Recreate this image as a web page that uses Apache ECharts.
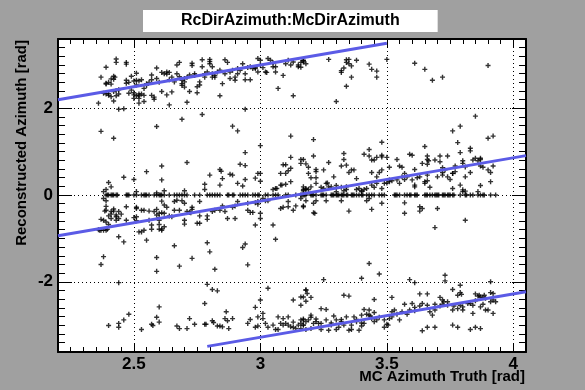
<!DOCTYPE html>
<html>
<head>
<meta charset="utf-8">
<script src="https://cdn.jsdelivr.net/npm/echarts@6/dist/echarts.min.js"></script>
<style>html,body{margin:0;padding:0;background:#a0a0a0;}#c{width:585px;height:390px;}</style>
</head>
<body>
<div id="c"></div>
<script>
// ---- data ----
const chartTitle = 'RcDirAzimuth:McDirAzimuth';
const xTitle = 'MC Azimuth Truth [rad]';
const yTitle = 'Reconstructed Azimuth [rad]';
const xRange = [2.2, 4.05];
const yRange = [-3.62, 3.6];
const xTickLabels = [2.5, 3, 3.5, 4];
const yTickLabels = [-2, 0, 2];

// upper band (reco close to truth)
const upperBand = [
[2.43,3.14],[2.43,3.06],[2.47,3.06],[2.47,3.02],[2.39,2.95],[2.37,2.72],[2.42,2.74],[2.425,2.72],[2.41,2.68],[2.42,2.67],[2.39,2.58],[2.40,2.60],[2.41,2.56],[2.39,2.56],[2.38,2.35],[2.39,2.33],[2.40,2.34],[2.40,2.30],[2.42,2.39],[2.43,2.41],[2.44,2.43],[2.41,2.27],[2.42,2.17],[2.36,2.12],[2.44,1.98],[2.46,1.99],[2.43,2.29],[2.44,2.33],
[2.47,2.65],[2.47,2.58],[2.49,2.74],[2.48,2.60],[2.51,2.81],[2.50,2.63],[2.51,2.65],[2.52,2.63],[2.53,2.66],[2.51,2.54],[2.49,2.42],[2.48,2.35],[2.50,2.36],[2.50,2.31],[2.51,2.29],[2.52,2.33],[2.52,2.29],[2.53,2.33],[2.54,2.30],[2.50,2.23],[2.52,2.23],[2.52,2.12],[2.54,2.16],[2.54,2.46],[2.55,2.57],[2.55,2.53],[2.56,2.60],[2.57,2.77],[2.57,2.66],[2.57,2.30],[2.58,2.26],[2.58,2.21],[2.59,2.93],[2.59,2.69],[2.59,1.58],
[2.60,2.60],[2.61,2.83],[2.62,2.80],[2.63,2.84],[2.63,2.79],[2.64,2.83],[2.64,2.66],[2.65,2.72],[2.66,2.61],[2.65,2.38],[2.61,2.39],[2.63,2.31],[2.64,2.08],[2.67,3.00],[2.67,2.80],[2.68,2.73],[2.68,3.06],[2.69,2.65],[2.69,2.57],[2.69,2.53],[2.70,2.61],[2.70,2.49],[2.70,2.69],[2.71,2.72],[2.69,1.75],[2.71,2.14],[2.72,2.39],[2.72,2.77],[2.73,2.99],[2.73,3.04],[2.74,2.80],[2.74,2.76],
[2.75,2.50],[2.75,2.36],[2.76,2.61],[2.76,2.54],[2.77,3.12],[2.77,2.96],[2.77,1.86],[2.78,2.80],[2.78,2.72],[2.79,2.84],[2.80,3.08],[2.80,3.13],[2.80,3.03],[2.81,2.96],[2.81,2.80],[2.81,2.72],[2.82,2.76],[2.82,2.72],[2.83,2.84],[2.84,2.88],[2.84,2.29],[2.85,2.57],
[2.86,3.12],[2.86,2.80],[2.87,3.06],[2.88,2.84],[2.88,2.69],[2.89,2.88],[2.90,2.72],[2.90,2.65],[2.91,2.80],[2.91,2.92],[2.92,2.88],[2.93,3.03],[2.94,2.80],[2.94,2.66],[2.95,2.94],[2.96,2.96],[2.89,1.59],[2.94,1.98],[2.96,2.66],[2.97,2.92],[2.98,2.92],
[2.98,2.94],[2.99,2.84],[2.99,3.15],[3.00,3.11],[3.00,3.00],[3.01,2.94],[3.02,2.84],[3.025,2.83],[3.03,3.15],[3.04,3.11],[3.05,3.05],[3.05,2.96],[3.06,2.96],[3.06,2.84],[3.07,2.46],[3.09,2.76],[3.10,3.03],[3.11,3.11],[3.12,3.00],[3.13,2.29],[3.13,3.07],[3.15,2.96],[3.15,3.00],[3.17,3.07],[3.17,3.11],[3.18,3.03],
[3.16,3.06],[3.16,2.95],[3.17,3.10],[3.27,3.13],[3.32,2.87],[3.32,2.83],[3.33,2.93],[3.34,3.12],[3.34,3.06],[3.35,3.03],[3.35,3.13],[3.36,2.98],[3.36,2.72],[3.38,3.11],[3.34,2.51],[3.30,2.16],[3.43,3.02],[3.44,2.90],[3.46,2.86],[3.46,2.72],[3.50,3.13],[3.61,3.04],[3.65,2.90],[3.68,2.65],[3.72,2.72],[3.90,2.99],[3.85,1.82],[3.79,1.59]
];

// middle band (reco shifted by -pi)
const middleBand = [
[2.37,1.47],[2.42,1.31],[2.91,1.48],[3.12,1.36],[3.00,1.14],[2.94,0.98],[3.12,0.87],[3.17,0.82],[3.16,0.73],[2.71,0.75],[2.61,0.67],[2.55,0.54],[2.46,0.41],[2.61,0.35],[2.50,0.36],[2.40,0.29],[2.41,0.19],
[2.92,0.71],[2.94,0.68],[2.84,0.59],[2.845,0.55],[2.80,0.46],[2.88,0.48],[2.89,0.46],[2.99,0.50],[3.00,0.50],[3.08,0.50],[3.09,0.70],[3.10,0.70],[3.11,0.56],[3.10,0.50],[3.12,0.62],[2.78,0.25],[2.78,0.13],[2.84,0.23],[2.85,0.38],[2.91,0.27],[2.94,0.36],[2.93,0.21],[2.98,0.39],[3.00,0.32],[3.05,0.13],[3.06,0.15],[3.065,0.15],[3.08,0.23],[3.085,0.23],[3.10,0.25],[3.12,0.31],[3.17,0.13],[3.18,0.15],
[2.38,-0.08],[2.39,-0.13],[2.38,0.08],[2.39,0.13],[2.59,0.05],[2.62,0.10],[2.61,-0.14],[2.66,-0.15],[2.70,0.10],[2.51,0.08],
[2.39,-0.26],[2.39,-0.35],[2.385,-0.37],[2.42,-0.32],[2.42,-0.37],[2.41,-0.38],[2.41,-0.44],[2.43,-0.50],[2.44,-0.38],[2.43,-0.46],[2.45,-0.44],[2.47,-0.27],[2.47,-0.58],[2.37,-0.56],[2.38,-0.58],[2.39,-0.62],[2.40,-0.68],[2.40,-0.48],[2.41,-0.54],[2.43,-0.58],[2.44,-0.54],[2.51,-0.28],[2.51,-0.31],[2.53,-0.35],[2.54,-0.35],[2.50,-0.52],[2.51,-0.50],[2.51,-0.59],[2.56,-0.37],[2.56,-0.58],[2.58,-0.38],[2.59,-0.33],[2.59,-0.46],[2.60,-0.52],[2.60,-0.58],[2.60,-0.42],[2.61,-0.41],[2.62,-0.42],[2.62,-0.23],[2.63,-0.28],[2.64,-0.48],[2.65,-0.50],[2.66,-0.35],[2.67,-0.12],[2.68,-0.35],[2.69,-0.13],[2.70,-0.19],[2.70,-0.67],[2.70,-0.58],[2.71,-0.38],[2.72,-0.40],[2.725,-0.41],[2.73,-0.28],[2.73,-0.33],[2.76,-0.15],[2.76,-0.48],[2.75,-0.65],[2.76,-0.65],[2.79,-0.48],[2.79,-0.56],[2.81,-0.38],[2.82,-0.35],[2.84,-0.35],[2.85,-0.25],[2.86,-0.38],[2.87,-0.54],[2.89,-0.28],[2.90,-0.54],[2.91,-0.15],[2.90,-0.25],[2.95,-0.19],[2.95,-0.35],[2.96,-0.40],[2.97,-0.40],[2.98,-0.18],[2.99,-0.15],[2.99,-0.21],[3.00,-0.42],[3.00,-0.54],[2.98,-0.69],[3.01,-0.08],[3.02,-0.13],[3.03,-0.13],[3.05,-0.69],[3.06,-1.02],[3.08,-0.31],[3.09,-0.28],[3.11,-0.27],[3.11,-0.15],[3.13,-0.35],[3.14,-0.25],[3.17,-0.27],[3.18,-0.13],
[2.37,-0.81],[2.365,-0.81],[2.38,-0.81],[2.39,-0.81],[2.395,-0.79],[2.36,-0.80],[2.44,-0.96],[2.46,-1.08],[2.38,-1.42],[2.59,-1.44],[2.55,-1.04],[2.61,-0.81],[2.60,-0.68],[2.60,-0.79],[2.61,-0.78],[2.62,-0.73],[2.52,-0.85],[2.53,-0.85],[2.54,-0.81],[2.57,-0.79],[2.57,-0.69],[2.66,-1.17],[2.73,-1.46],[2.79,-1.10],[2.80,-1.31],[2.93,-1.21],[2.94,-1.13],
[3.76,1.48],[3.21,1.28],[3.92,1.36],[3.90,1.31],[3.78,1.21],[3.48,1.22],[3.21,0.90],[3.33,0.96],[3.33,0.82],[3.41,0.94],[3.43,0.90],[3.34,0.69],[3.32,0.67],[3.19,0.64],[3.18,0.72],[3.16,0.82],[3.19,0.50],[3.22,0.59],[3.22,0.54],[3.25,0.58],[3.27,0.75],[3.29,0.42],[3.36,0.58],[3.37,0.58],[3.35,0.52],[3.38,0.38],[3.43,1.05],[3.44,0.81],[3.45,0.81],[3.46,0.87],[3.48,0.88],[3.48,0.92],[3.50,0.87],[3.47,0.52],[3.46,0.42],[3.48,0.58],[3.44,0.52],[3.51,0.64],[3.54,0.82],[3.55,0.67],[3.56,0.64],[3.59,0.94],[3.60,0.92],[3.61,0.59],[3.62,0.40],[3.64,0.73],[3.65,1.12],[3.66,0.82],[3.66,0.90],[3.665,0.79],[3.66,0.71],[3.69,0.81],[3.71,0.90],[3.71,0.77],[3.72,0.63],[3.74,0.90],[3.72,0.52],[3.73,0.58],[3.75,0.36],[3.74,0.42],[3.76,0.50],[3.77,0.67],[3.77,0.54],[3.79,0.98],[3.80,0.79],[3.80,0.73],[3.81,0.42],[3.81,0.65],[3.83,1.08],[3.83,1.02],[3.84,0.81],[3.85,0.85],[3.87,0.85],[3.87,0.82],[3.86,0.79],[3.87,0.67],[3.88,0.64],[3.83,0.52],[3.90,0.58],[3.91,0.52],[3.92,0.67],[3.91,0.31],[3.87,0.22],[3.76,0.50],
[3.17,0.19],[3.17,0.10],[3.18,0.13],[3.19,0.13],[3.20,0.19],[3.20,0.40],[3.22,0.40],[3.22,0.27],[3.24,0.18],[3.25,0.15],[3.26,0.27],[3.265,0.28],[3.27,0.19],[3.28,0.19],[3.30,0.22],[3.30,0.08],[3.32,0.18],[3.33,0.10],[3.34,0.13],[3.34,0.19],[3.38,0.13],[3.39,0.15],[3.40,0.10],[3.40,0.08],[3.41,0.13],[3.42,0.15],[3.44,0.23],[3.45,0.18],[3.46,0.27],[3.48,0.15],[3.49,0.27],[3.50,0.28],[3.51,0.35],[3.51,0.31],[3.52,0.33],[3.54,0.35],[3.55,0.27],[3.56,0.42],[3.57,0.50],[3.57,0.36],[3.58,0.42],[3.60,0.35],[3.61,0.23],[3.61,0.19],[3.63,0.42],[3.65,0.31],[3.65,0.27],[3.66,0.46],[3.66,0.33],[3.67,0.18],[3.70,0.42],[3.72,0.46],[3.76,0.15],[3.79,0.23],[3.80,0.12],[3.80,0.08],[3.81,0.09],[3.86,0.08],
[3.16,-0.08],[3.17,-0.25],[3.21,-0.19],[3.21,-0.41],[3.215,-0.42],[3.22,-0.13],[3.26,-0.13],[3.32,-0.13],[3.35,-0.37],[3.42,-0.13],[3.43,-0.08],[3.44,-0.33],[3.48,-0.19],[3.57,-0.18],[3.57,-0.42],[3.63,-0.37],[3.63,-0.27],[3.64,-0.31],[3.69,-0.75],[3.70,-0.31],[3.81,-0.58]
];

// row of entries reconstructed at exactly 0 (x values)
const zeroRowX = [
2.39,2.395,2.40,2.41,2.415,2.42,2.43,2.435,2.47,2.475,2.48,2.50,2.51,2.53,2.54,2.545,2.55,2.56,2.58,2.59,2.60,2.605,2.61,2.62,2.64,2.66,2.67,2.68,2.69,2.70,2.71,2.74,2.76,2.79,2.80,2.81,2.82,2.83,2.84,2.87,2.875,2.89,2.895,2.92,2.93,2.94,2.95,2.97,2.98,2.99,2.995,3.02,3.03,3.05,3.06,3.07,3.10,3.11,3.14,3.16,3.17,
3.165,3.175,3.18,3.20,3.205,3.21,3.22,3.24,3.245,3.25,3.26,3.28,3.285,3.29,3.30,3.305,3.31,3.32,3.325,3.33,3.34,3.345,3.36,3.365,3.37,3.38,3.39,3.40,3.405,3.42,3.43,3.44,3.45,3.47,3.48,3.49,3.53,3.535,3.54,3.55,3.57,3.58,3.59,3.595,3.61,3.615,3.62,3.65,3.655,3.66,3.67,3.68,3.69,3.695,3.70,3.705,3.72,3.725,3.73,3.74,3.745,3.75,3.76,3.765,3.79,3.81,3.815,3.83,3.84,3.86,3.87,3.88,3.885,3.91,3.93
];

// lower band (reco shifted by -2pi) and isolated entries below -1.5
const lowerBand = [
[2.37,-1.60],[2.68,-1.64],[2.59,-1.76],[2.82,-1.71],[2.95,-1.61],[2.44,-2.02],[2.79,-2.06],[2.81,-2.18],[2.83,-2.21],[3.03,-2.15],[2.78,-2.50],[2.60,-2.58],[2.48,-2.75],[2.46,-2.88],[2.44,-2.96],[2.44,-3.05],[2.40,-3.01],[2.59,-2.82],[2.60,-2.93],[2.57,-2.98],[2.575,-3.01],[2.53,-3.10],[2.67,-3.02],[2.68,-3.08],[2.71,-3.08],[2.72,-2.85],[2.74,-2.98],[2.78,-2.98],[2.785,-2.98],[2.81,-2.90],[2.815,-2.94],[2.83,-3.02],[2.84,-3.02],[2.85,-3.04],[2.86,-2.85],[2.865,-2.69],[2.87,-2.90],[2.875,-3.08],[2.89,-2.85],[2.95,-2.96],[2.96,-2.87],[2.98,-2.59],[2.98,-3.05],[2.99,-3.02],[2.99,-2.81],[3.00,-2.42],[3.01,-2.85],[3.01,-2.73],[3.02,-2.96],[3.03,-3.05],[3.05,-3.00],[3.06,-3.10],[3.07,-3.10],[3.07,-2.81],[3.08,-2.96],[3.09,-2.85],[3.09,-3.00],[3.10,-2.96],[3.11,-2.81],[3.11,-3.00],[3.12,-3.04],[3.13,-2.93],[3.13,-2.42],[3.13,-3.05],[3.14,-3.08],[3.15,-3.00],[3.16,-2.96],[3.17,-2.86],[3.17,-2.88],[3.17,-3.00],[3.16,-2.35],[3.16,-2.54],[3.18,-2.45],[3.18,-2.19],
[3.43,-1.58],[3.47,-1.82],[3.73,-1.85],[3.25,-1.95],[3.40,-1.92],[3.59,-1.95],[3.61,-2.02],[3.73,-1.98],[3.91,-2.00],[3.79,-2.08],[3.18,-2.19],[3.185,-2.27],[3.17,-2.35],[3.20,-2.36],[3.76,-2.18],[3.79,-2.25],[3.795,-2.29],[3.33,-2.31],[3.35,-2.33],[3.45,-2.41],[3.63,-2.28],[3.66,-2.28],[3.52,-2.36],[3.71,-2.36],[3.72,-2.42],[3.725,-2.46],[3.78,-2.31],[3.82,-2.50],[3.85,-2.28],[3.86,-2.33],[3.865,-2.31],[3.87,-2.35],[3.88,-2.36],[3.885,-2.31],[3.89,-2.38],[3.91,-2.25],[3.92,-2.27],[3.93,-2.46],[3.92,-2.73],[3.89,-2.65],[3.88,-2.52],[3.87,-2.58],[3.84,-2.73],[3.85,-2.44],[3.83,-2.50],[3.84,-2.54],[3.80,-2.58],[3.79,-2.54],[3.80,-2.65],[3.78,-2.62],[3.76,-2.65],[3.765,-2.56],[3.74,-2.54],[3.74,-2.46],[3.72,-2.52],[3.71,-2.56],[3.69,-2.52],[3.69,-2.65],[3.68,-2.77],[3.67,-2.69],[3.66,-2.54],[3.64,-2.50],[3.63,-2.56],[3.61,-2.67],[3.61,-2.59],[3.60,-2.50],[3.59,-2.65],[3.58,-2.75],[3.57,-2.52],[3.56,-2.69],[3.55,-2.88],[3.54,-2.75],[3.53,-2.65],[3.52,-2.69],[3.52,-2.81],[3.51,-2.85],[3.50,-2.98],[3.505,-3.00],[3.49,-2.88],[3.47,-2.82],[3.46,-2.88],[3.45,-2.92],[3.44,-2.85],[3.43,-2.77],[3.435,-2.79],[3.41,-2.64],[3.42,-2.75],[3.41,-2.96],[3.40,-2.95],[3.40,-3.02],[3.38,-2.87],[3.39,-3.12],[3.38,-2.92],[3.37,-2.81],[3.36,-3.00],[3.35,-3.12],[3.34,-2.81],[3.33,-3.00],[3.32,-2.92],[3.32,-2.87],[3.30,-3.10],[3.30,-2.88],[3.29,-2.79],[3.28,-3.00],[3.28,-2.95],[3.27,-3.12],[3.26,-2.88],[3.26,-2.64],[3.24,-3.10],[3.24,-2.62],[3.23,-2.96],[3.22,-2.86],[3.22,-2.92],[3.21,-2.96],[3.20,-2.77],[3.20,-2.82],[3.19,-2.88],[3.18,-2.92],[3.18,-3.10],[3.17,-3.00],[3.16,-2.88],[3.16,-3.08],[3.20,-3.08],[3.24,-2.96],[3.31,-3.05],[3.36,-3.10],[3.40,-2.77],[3.43,-2.65],[3.45,-2.71],[3.49,-3.05],[3.64,-3.13],[3.66,-3.05],[3.69,-3.05],[3.76,-3.00],[3.78,-3.05],[3.83,-3.10],[3.85,-3.05],[3.87,-3.08],[3.90,-2.65],[3.91,-2.46],[3.92,-2.42]
];

// fitted straight lines (end points)
const lineTop = [[2.2, 2.2], [3.5, 3.5]];
const lineMid = [[2.2, -0.94], [4.05, 0.91]];
const lineLow = [[2.79, -3.49], [4.05, -2.23]];

// ---- chart ----
const FONT = '"Liberation Sans", Arial, Helvetica, sans-serif';
const xMinor = [];
for (let i = 44; i <= 81; i++) xMinor.push(Math.round(i * 5) / 100);
const yMinor = [];
for (let i = -18; i <= 18; i++) yMinor.push(i / 5);

function mkX(pos, major, withLabels, withLine) {
  return {
    type: 'value', min: xRange[0], max: xRange[1], position: pos, splitNumber: 4,
    axisLine: { show: withLine, onZero: false, lineStyle: { color: '#000', width: 2 } },
    axisTick: { show: true, inside: true, length: major ? 9 : 5,
      customValues: major ? xTickLabels : xMinor, lineStyle: { color: '#000', width: 1 } },
    axisLabel: withLabels ? { show: true, customValues: xTickLabels, margin: 4, fontSize: 17,
      fontWeight: 'bold', color: '#000', fontFamily: FONT } : { show: false },
    splitLine: withLabels ? { show: true, lineStyle: { color: '#000', width: 1, type: [1, 3] } } : { show: false },
    minorTick: { show: false }
  };
}
function mkY(pos, major, withLabels, withLine) {
  return {
    type: 'value', min: yRange[0], max: yRange[1], position: pos, splitNumber: 4,
    axisLine: { show: withLine, onZero: false, lineStyle: { color: '#000', width: 2 } },
    axisTick: { show: true, inside: true, length: major ? 14 : 7,
      customValues: major ? yTickLabels : yMinor, lineStyle: { color: '#000', width: 1 } },
    axisLabel: withLabels ? { show: true, customValues: yTickLabels, margin: 5, fontSize: 17,
      fontWeight: 'bold', color: '#000', fontFamily: FONT } : { show: false },
    splitLine: withLabels ? { show: true, lineStyle: { color: '#000', width: 1, type: [1, 3] } } : { show: false },
    minorTick: { show: false }
  };
}

const points = upperBand.concat(middleBand, zeroRowX.map(x => [x, 0]), lowerBand);
const lineStyle = { color: '#5b5be6', width: 3 };

const chart = echarts.init(document.getElementById('c'), null, { renderer: 'canvas' });
chart.setOption({
  animation: false,
  backgroundColor: '#a0a0a0',
  title: {
    text: chartTitle, left: 143, top: 10, padding: [3, 38, 3, 38], backgroundColor: '#ffffff',
    textStyle: { fontSize: 16, fontWeight: 'bold', color: '#000', fontFamily: FONT, lineHeight: 16 }
  },
  grid: { left: 58, right: 59, top: 39, bottom: 38, show: true, backgroundColor: '#ffffff', borderWidth: 0, outerBoundsMode: 'none' },
  xAxis: [mkX('bottom', true, true, true), mkX('bottom', false, false, false), mkX('top', true, false, true), mkX('top', false, false, false)],
  yAxis: [mkY('left', true, true, true), mkY('left', false, false, false), mkY('right', true, false, true), mkY('right', false, false, false)],
  graphic: [
    { type: 'text', x: 22, y: 40, rotation: Math.PI / 2,
      style: { text: yTitle, fontSize: 15, fontWeight: 'bold', fontFamily: FONT, fill: '#000', textAlign: 'right', textVerticalAlign: 'middle' } },
    { type: 'text', x: 525, y: 377,
      style: { text: xTitle, fontSize: 15, fontWeight: 'bold', fontFamily: FONT, fill: '#000', textAlign: 'right', textVerticalAlign: 'middle' } }
  ],
  series: [
    { type: 'scatter', xAxisIndex: 0, yAxisIndex: 0, data: points,
      symbol: 'path://M1.8,0H3.2V1.8H5V3.2H3.2V5H1.8V3.2H0V1.8H1.8Z', symbolSize: 5,
      itemStyle: { color: '#000' }, silent: true },
    { type: 'line', xAxisIndex: 0, yAxisIndex: 0, data: lineTop, showSymbol: false, lineStyle: lineStyle, silent: true },
    { type: 'line', xAxisIndex: 0, yAxisIndex: 0, data: lineMid, showSymbol: false, lineStyle: lineStyle, silent: true },
    { type: 'line', xAxisIndex: 0, yAxisIndex: 0, data: lineLow, showSymbol: false, lineStyle: lineStyle, silent: true }
  ]
});
</script>
</body>
</html>
